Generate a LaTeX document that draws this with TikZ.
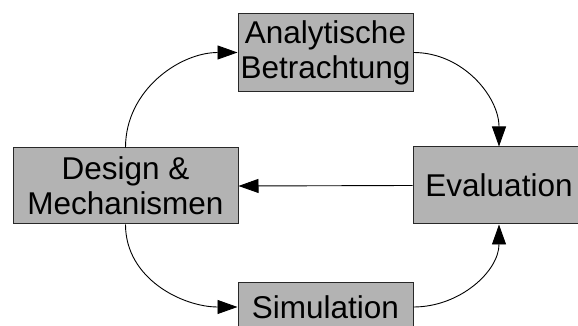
\documentclass[tikz,border=0pt]{standalone}
\usepackage{fontspec}
\setmainfont{Liberation Sans}
\usepackage{xcolor}
\usepackage{tikz}
\usetikzlibrary{arrows.meta,positioning}
\definecolor{boxgray}{RGB}{179,179,179}
\definecolor{boxline}{RGB}{40,40,40}
\tikzset{
  % Kasten
  box/.style={
    draw=boxline,
    fill=boxgray,
    line width=1pt,
    inner sep=0pt,
    align=center,
    font=\fontsize{31.5}{35}\selectfont
  },
  % Pfeil
  arr/.style={-{Triangle[length=20pt,width=14pt]}, line width=0.9pt, black},
}

\begin{document}
\begin{tikzpicture}[x=1pt,y=1pt]
        % Rahmen
        \useasboundingbox (0,0) rectangle (578,326);
        \clip (0,0) rectangle (578,326);

        % Kaesten
        \node[box, minimum width=175pt, minimum height=78pt] (analyt) at (325.5,273.5) {Analytische\\Betrachtung};
        \node[box, minimum width=225pt, minimum height=76pt] (design) at (125.5,140) {Design \&\\Mechanismen};
        \node[box, minimum width=172pt, minimum height=77pt] (eval) at (499,140.5) {Evaluation};
        \node[box, minimum width=175pt, minimum height=48pt] (sim) at (325.5,19) {Simulation};

        % Kreislauf
        \draw[arr] (design.north) to[out=90, in=180] (analyt.west);
        \draw[arr] (analyt.east) to[out=0, in=90] (eval.north);
        \draw[arr] (eval.west) -- (design.east);
        \draw[arr] (design.south) to[out=-90, in=180] (sim.west);
        \draw[arr] (sim.east) to[out=0, in=-90] (eval.south);
    \end{tikzpicture}
\end{document}
